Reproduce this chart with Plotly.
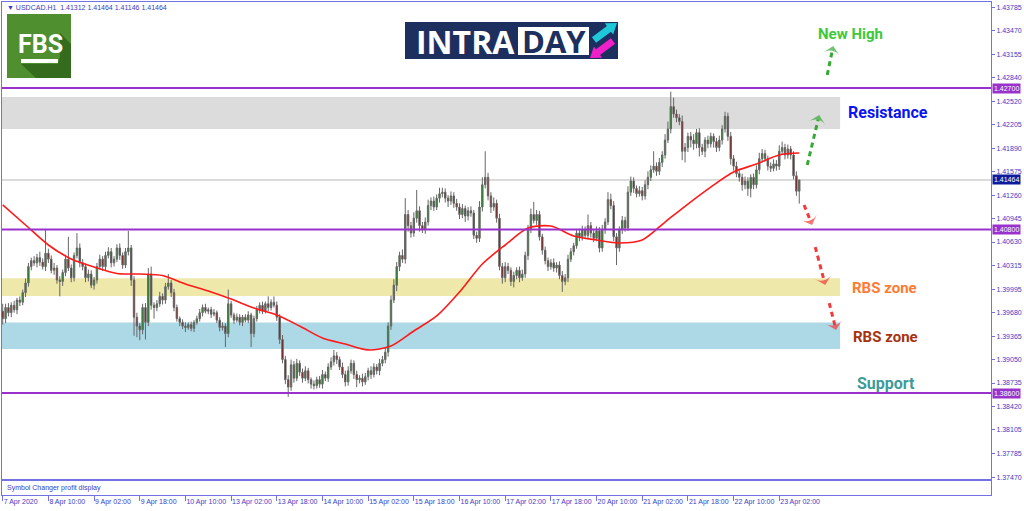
import plotly.graph_objects as go

# ---------------- data ----------------
time_labels = ["7 Apr 2020", "8 Apr 10:00", "9 Apr 02:00", "9 Apr 18:00", "10 Apr 10:00",
               "13 Apr 02:00", "13 Apr 18:00", "14 Apr 10:00", "15 Apr 02:00", "15 Apr 18:00",
               "16 Apr 10:00", "17 Apr 02:00", "17 Apr 18:00", "20 Apr 10:00", "21 Apr 02:00",
               "21 Apr 18:00", "22 Apr 10:00", "23 Apr 02:00"]
label_bars = [0, 16, 32, 48, 64, 80, 96, 112, 128, 144, 160, 176, 192, 208, 224, 240, 256, 272]

price_ticks = [1.43785, 1.43470, 1.43155, 1.42840, 1.42520, 1.42205, 1.41890, 1.41575,
               1.41260, 1.40945, 1.40630, 1.40315, 1.39995, 1.39680, 1.39365, 1.39050,
               1.38735, 1.38420, 1.38105, 1.37785, 1.37470]

first_open = 1.3970
close = [
    1.3960, 1.3975, 1.3968, 1.3978, 1.3972, 1.3985, 1.3982, 1.3995, 1.4008, 1.4030,
    1.4038, 1.4035, 1.4042, 1.4036, 1.4030, 1.4048, 1.4040, 1.4025, 1.4028, 1.4012,
    1.4010, 1.4022, 1.4040, 1.4028, 1.4015, 1.4045, 1.4055, 1.4035, 1.4030, 1.4015,
    1.4020, 1.4005, 1.4012, 1.4030, 1.4040, 1.4030, 1.4045, 1.4050, 1.4035, 1.4040,
    1.4055, 1.4045, 1.4032, 1.4050, 1.4055, 1.4012, 1.3962, 1.3950, 1.3945, 1.3975,
    1.3955, 1.4020, 1.3978, 1.3975, 1.3980, 1.3990, 1.3985, 1.4003, 1.4008, 1.3995,
    1.3975, 1.3960, 1.3955, 1.3950, 1.3948, 1.3952, 1.3947, 1.3955, 1.3960, 1.3968,
    1.3975, 1.3970, 1.3972, 1.3966, 1.3968, 1.3958, 1.3948, 1.3950, 1.3940, 1.3980,
    1.3965, 1.3958, 1.3962, 1.3955, 1.3962, 1.3958, 1.3965, 1.3940, 1.3960, 1.3972,
    1.3978, 1.3970, 1.3980, 1.3975, 1.3982, 1.3978, 1.3962, 1.3932, 1.3905, 1.3878,
    1.3868, 1.3898, 1.3880, 1.3900, 1.3888, 1.3880, 1.3890, 1.3878, 1.3872, 1.3870,
    1.3878, 1.3872, 1.3885, 1.3880, 1.3895, 1.3902, 1.3910, 1.3905, 1.3895, 1.3885,
    1.3875, 1.3890, 1.3900, 1.3885, 1.3878, 1.3880, 1.3875, 1.3882, 1.3890, 1.3885,
    1.3895, 1.3890, 1.3900, 1.3905, 1.3915, 1.3950, 1.3985, 1.4005, 1.4030, 1.4045,
    1.4040, 1.4100, 1.4085, 1.4075, 1.4095, 1.4105, 1.4085, 1.4080, 1.4090, 1.4112,
    1.4118, 1.4110, 1.4122, 1.4128, 1.4130, 1.4122, 1.4118, 1.4125, 1.4115, 1.4110,
    1.4100, 1.4108, 1.4098, 1.4105, 1.4102, 1.4072, 1.4068, 1.4110, 1.4140, 1.4150,
    1.4125, 1.4110, 1.4115, 1.4095, 1.4030, 1.4015, 1.4030, 1.4025, 1.4010, 1.4018,
    1.4025, 1.4015, 1.4020, 1.4045, 1.4080, 1.4100, 1.4092, 1.4100, 1.4070, 1.4052,
    1.4038, 1.4030, 1.4035, 1.4028, 1.4032, 1.4018, 1.4010, 1.4015, 1.4040, 1.4050,
    1.4058, 1.4075, 1.4070, 1.4080, 1.4072, 1.4085, 1.4075, 1.4068, 1.4078, 1.4055,
    1.4080, 1.4090, 1.4120, 1.4112, 1.4070, 1.4055, 1.4080, 1.4092, 1.4082, 1.4130,
    1.4145, 1.4135, 1.4128, 1.4132, 1.4125, 1.4140, 1.4150, 1.4160, 1.4165, 1.4158,
    1.4170, 1.4180, 1.4200, 1.4215, 1.4245, 1.4235, 1.4230, 1.4225, 1.4185, 1.4190,
    1.4205, 1.4200, 1.4195, 1.4210, 1.4190, 1.4185, 1.4200, 1.4195, 1.4205, 1.4198,
    1.4190, 1.4200, 1.4215, 1.4232, 1.4205, 1.4175, 1.4165, 1.4155, 1.4150, 1.4140,
    1.4145, 1.4135, 1.4150, 1.4140, 1.4160, 1.4175, 1.4182, 1.4175, 1.4165, 1.4162,
    1.4168, 1.4165, 1.4185, 1.4190, 1.4180, 1.4188, 1.4180, 1.4152, 1.41312, 1.41464,
]
# wick lengths, in pips (0.0001)
upper_wick = [
    10, 5, 6, 4, 6, 3, 5, 4, 6, 5,
    4, 6, 5, 8, 5, 32, 6, 5, 7, 4,
    5, 4, 6, 30, 5, 4, 20, 6, 5, 4,
    6, 5, 4, 5, 6, 4, 5, 6, 5, 4,
    5, 6, 4, 5, 23, 4, 5, 6, 4, 5,
    6, 8, 10, 4, 5, 6, 4, 5, 12, 4,
    5, 4, 3, 4, 5, 3, 4, 3, 4, 5,
    4, 5, 3, 4, 5, 3, 4, 5, 4, 19,
    4, 3, 5, 4, 3, 4, 5, 3, 4, 5,
    4, 5, 3, 10, 4, 8, 5, 4, 6, 5,
    6, 7, 5, 6, 4, 5, 6, 4, 3, 5,
    4, 5, 6, 4, 5, 6, 8, 5, 4, 6,
    5, 6, 5, 4, 5, 4, 6, 5, 4, 6,
    5, 4, 6, 5, 6, 5, 6, 8, 6, 5,
    8, 22, 6, 5, 8, 28, 6, 5, 6, 8,
    5, 6, 5, 8, 6, 5, 4, 6, 5, 6,
    5, 6, 4, 5, 6, 4, 5, 8, 10, 35,
    6, 5, 8, 5, 6, 5, 6, 5, 4, 5,
    4, 5, 6, 5, 6, 8, 17, 6, 5, 4,
    5, 4, 5, 6, 4, 5, 6, 5, 6, 5,
    4, 5, 6, 5, 4, 15, 5, 4, 6, 5,
    6, 5, 10, 8, 6, 5, 4, 6, 5, 8,
    6, 5, 4, 6, 5, 6, 8, 6, 20, 5,
    6, 5, 8, 10, 20, 12, 6, 5, 8, 6,
    5, 6, 8, 5, 6, 5, 4, 6, 5, 4,
    5, 6, 5, 6, 5, 6, 5, 6, 4, 5,
    6, 5, 4, 5, 6, 8, 6, 5, 4, 5,
    6, 5, 8, 8, 5, 6, 4, 5, 6, 0,
]
lower_wick = [
    8, 6, 5, 6, 4, 6, 5, 4, 6, 5,
    5, 4, 6, 5, 4, 6, 5, 4, 6, 5,
    20, 6, 5, 4, 6, 5, 4, 6, 5, 6,
    5, 4, 6, 5, 4, 6, 5, 4, 6, 5,
    4, 6, 5, 4, 5, 8, 25, 15, 14, 6,
    23, 5, 6, 15, 5, 4, 6, 5, 4, 6,
    5, 4, 5, 4, 6, 3, 4, 5, 3, 4,
    5, 3, 4, 5, 3, 4, 5, 4, 18, 5,
    4, 5, 3, 4, 5, 3, 4, 18, 5, 4,
    5, 4, 3, 5, 4, 3, 5, 6, 5, 6,
    13, 5, 6, 4, 5, 6, 4, 5, 6, 5,
    4, 5, 6, 4, 5, 4, 5, 6, 4, 5,
    6, 5, 4, 6, 10, 5, 6, 4, 5, 6,
    4, 5, 6, 4, 5, 6, 5, 4, 8, 6,
    5, 6, 8, 6, 5, 6, 8, 5, 6, 5,
    6, 5, 4, 6, 5, 6, 8, 5, 6, 5,
    6, 5, 8, 6, 5, 5, 6, 5, 6, 5,
    6, 8, 5, 6, 5, 8, 6, 5, 6, 8,
    5, 6, 4, 5, 6, 5, 4, 6, 5, 6,
    5, 6, 4, 5, 6, 5, 14, 5, 6, 4,
    5, 4, 6, 5, 4, 5, 6, 5, 4, 6,
    5, 6, 4, 5, 6, 23, 5, 6, 5, 4,
    5, 6, 5, 4, 6, 5, 6, 5, 4, 6,
    5, 6, 5, 4, 6, 5, 6, 5, 12, 15,
    6, 10, 8, 6, 12, 5, 8, 6, 5, 8,
    6, 5, 6, 5, 6, 8, 6, 5, 6, 8,
    6, 10, 12, 6, 5, 6, 5, 4, 6, 5,
    4, 6, 5, 4, 6, 5, 6, 5, 6, 16.6,
]

ma_bars = [0, 8, 16, 24, 32, 40, 48, 56, 64, 72, 80, 88, 96, 104, 112, 120, 128, 136,
           144, 152, 160, 168, 176, 184, 192, 200, 208, 216, 224, 232, 240, 248, 256, 264, 272, 279]
ma_values = [1.41128, 1.40859, 1.40590, 1.40402, 1.40294, 1.40207, 1.40200, 1.40180, 1.40066,
             1.39972, 1.39864, 1.39743, 1.39649, 1.39501, 1.39340, 1.39259, 1.39180, 1.39232,
             1.39434, 1.39636, 1.39958, 1.40335, 1.40590, 1.40818, 1.40845, 1.40711, 1.40657,
             1.40617, 1.40657, 1.40899, 1.41141, 1.41369, 1.41571, 1.41679, 1.41800, 1.41826]

level_lines = [1.42700, 1.40800, 1.38600]
bid_price = 1.41464
zones = [  # (low, high, colour)
    (1.42149, 1.42580, "#dcdcdc"),
    (1.39905, 1.40143, "#eee8aa"),
    (1.39192, 1.39550, "#add8e6"),
]
zone_end_bar = 293.3

# dashed projection arrows: (bar0, price0, bar1, price1, colour)
arrows = [
    (281.8, 1.41665, 286.0, 1.42337, "#35a835"),
    (288.8, 1.42875, 290.9, 1.43265, "#35a835"),
    (280.7, 1.41128, 283.5, 1.40859, "#f23a3a"),
    (284.6, 1.40563, 288.1, 1.40052, "#f23a3a"),
    (289.5, 1.39810, 291.9, 1.39447, "#f23a3a"),
]
labels = [  # (text, bar, price, colour, size)
    ("New High", 296.8, 1.43426, "#3cc83c", 15),
    ("Resistance", 310.1, 1.42377, "#0a14f0", 16),
    ("RBS zone", 308.7, 1.40012, "#ff7a33", 15),
    ("RBS zone", 309.1, 1.39353, "#a8320f", 15),
    ("Support", 309.4, 1.38735, "#3f9a9a", 16),
]

# ---------------- derived OHLC ----------------
n = len(close)
opens = [first_open] + close[:-1]
highs = [max(o, c) + u * 1e-4 for o, c, u in zip(opens, close, upper_wick)]
lows = [min(o, c) - d * 1e-4 for o, c, d in zip(opens, close, lower_wick)]
bars = list(range(n))

# ---------------- geometry ----------------
W, H = 1024, 511
ML, MR, MT, MB = 2, 33, 2, 16
PW, PH = W - ML - MR, H - MT - MB
xr = [-0.25, -0.25 + PW / 2.855]
yr = [1.37445, 1.43856]
main_dom = [(495 - 479) / PH, 1]
sub_dom = [0, (495 - 481) / PH]

FRAME = "#7272e4"
TXT = "#3b3bc8"
FONT = "Liberation Sans, Arial, sans-serif"


def px(x):
    return (x - ML) / PW


def py(y):
    return (H - MB - y) / PH


def path(pts):
    return "M " + " L ".join(f"{px(a):.5f},{py(b):.5f}" for a, b in pts) + " Z"


fig = go.Figure()

fig.add_trace(go.Candlestick(
    x=bars, open=opens, high=highs, low=lows, close=close,
    increasing=dict(line=dict(color="#666666", width=1), fillcolor="#149614"),
    decreasing=dict(line=dict(color="#666666", width=1), fillcolor="#8b0000"),
    whiskerwidth=0, showlegend=False, hoverinfo="skip"))

fig.add_trace(go.Scatter(x=ma_bars, y=ma_values, mode="lines",
                         line=dict(color="#ff1a1a", width=1.6, shape="spline", smoothing=0.8),
                         showlegend=False, hoverinfo="skip"))

for b0, p0, b1, p1, col in arrows:
    fig.add_trace(go.Scatter(
        x=[b0, b1], y=[p0, p1], mode="lines+markers",
        line=dict(color=col, width=3, dash="5px,4px"),
        marker=dict(symbol="arrow-wide", size=[0, 12], color=col, angleref="previous",
                    line=dict(width=0)),
        showlegend=False, hoverinfo="skip"))

fig.add_trace(go.Scatter(x=[0], y=[0.5], mode="markers", marker=dict(opacity=0),
                         xaxis="x2", yaxis="y2", showlegend=False, hoverinfo="skip"))

shapes = []
for lo, hi, col in zones:
    shapes.append(dict(type="rect", xref="x", yref="y", x0=xr[0] - 1, x1=zone_end_bar,
                       y0=lo, y1=hi, fillcolor=col, line=dict(width=0), layer="below"))
shapes.append(dict(type="line", xref="paper", yref="y", x0=0, x1=1, y0=bid_price, y1=bid_price,
                   line=dict(color="#b8b8b8", width=1), layer="below"))
for lv in level_lines:
    shapes.append(dict(type="line", xref="paper", yref="y", x0=0, x1=1, y0=lv, y1=lv,
                       line=dict(color="#9932cc", width=2)))

# FBS logo
shapes.append(dict(type="rect", xref="paper", yref="paper", x0=px(7), x1=px(71), y0=py(78), y1=py(14),
                   fillcolor="#4f8f30", line=dict(width=0)))
shapes.append(dict(type="path", xref="paper", yref="paper",
                   path=path([(60, 33), (71, 44), (71, 78), (36, 78), (21, 64), (58, 64), (60, 56)]),
                   fillcolor="#356b1c", line=dict(width=0)))
shapes.append(dict(type="rect", xref="paper", yref="paper", x0=px(21), x1=px(58), y0=py(63), y1=py(59),
                   fillcolor="white", line=dict(width=0)))
# INTRADAY logo
shapes.append(dict(type="rect", xref="paper", yref="paper", x0=px(405), x1=px(618), y0=py(59), y1=py(22),
                   fillcolor="#1c2f5e", line=dict(width=0)))
shapes.append(dict(type="rect", xref="paper", yref="paper", x0=px(518), x1=px(589), y0=py(55), y1=py(27),
                   fillcolor="white", line=dict(width=0)))
shapes.append(dict(type="path", xref="paper", yref="paper",
                   path=path([(596.1, 42.8), (611.0, 31.8), (613.1, 34.6), (617, 23), (604.8, 23.3),
                              (606.9, 26.1), (591.9, 37.2)]),
                   fillcolor="#1ec8d8", line=dict(width=0)))
shapes.append(dict(type="path", xref="paper", yref="paper",
                   path=path([(615.1, 43.8), (600.1, 54.9), (602.2, 57.7), (590, 58), (593.9, 46.4),
                              (596.0, 49.3), (610.9, 38.2)]),
                   fillcolor="#f020c8", line=dict(width=0)))

ann = []
for txt, b, p, col, sz in labels:
    ann.append(dict(x=b, y=p, xref="x", yref="y", text=f"<b>{txt}</b>", showarrow=False,
                    xanchor="center", yanchor="middle",
                    font=dict(family="Roboto, sans-serif", size=sz, color=col)))
for lv in level_lines:
    ann.append(dict(x=1, y=lv, xref="paper", yref="y", xanchor="left", yanchor="middle", xshift=1,
                    text=f"{lv:.5f}", showarrow=False, bgcolor="#9932cc", borderpad=1,
                    font=dict(family=FONT, size=7, color="white")))
ann.append(dict(x=1, y=bid_price, xref="paper", yref="y", xanchor="left", yanchor="middle", xshift=1,
                text=f"{bid_price:.5f}", showarrow=False, bgcolor="#0c1c9c", borderpad=1,
                font=dict(family=FONT, size=7, color="white")))
ann.append(dict(x=px(5), y=py(7), xref="paper", yref="paper", xanchor="left", yanchor="middle",
                text="▼ USDCAD.H1  1.41312 1.41464 1.41146 1.41464", showarrow=False,
                font=dict(family=FONT, size=7, color=TXT)))
ann.append(dict(x=px(5), y=py(488), xref="paper", yref="paper", xanchor="left", yanchor="middle",
                text="Symbol Changer profit display", showarrow=False,
                font=dict(family=FONT, size=7, color=TXT)))
ann.append(dict(x=px(40), y=py(45), xref="paper", yref="paper", xanchor="center", yanchor="middle",
                text="<b>FBS</b>", showarrow=False,
                font=dict(family="Roboto, sans-serif", size=25, color="white")))
ann.append(dict(x=px(465), y=py(41), xref="paper", yref="paper", xanchor="center", yanchor="middle",
                text="<b>INTRA</b>", showarrow=False,
                font=dict(family="Open Sans, sans-serif", size=32, color="white")))
ann.append(dict(x=px(553.5), y=py(41), xref="paper", yref="paper", xanchor="center", yanchor="middle",
                text="<b>DAY</b>", showarrow=False,
                font=dict(family="Open Sans, sans-serif", size=31, color="#1c2f5e")))

axis_common = dict(showgrid=False, zeroline=False, showline=True, mirror=True,
                   linecolor=FRAME, linewidth=1, fixedrange=True)

fig.update_layout(
    width=W, height=H, margin=dict(l=ML, r=MR, t=MT, b=MB, autoexpand=False),
    paper_bgcolor="white", plot_bgcolor="white", showlegend=False,
    xaxis=dict(domain=[0, 1], range=xr, anchor="y", showticklabels=False, ticks="",
               rangeslider=dict(visible=False), **axis_common),
    yaxis=dict(domain=main_dom, range=yr, side="right", anchor="x",
               tickvals=price_ticks, ticktext=[f"{v:.5f}" for v in price_ticks],
               ticks="outside", ticklen=3, tickcolor=FRAME,
               tickfont=dict(family=FONT, size=7, color=TXT), **axis_common),
    xaxis2=dict(domain=[0, 1], range=xr, anchor="y2", tickvals=label_bars, ticktext=time_labels,
                ticks="outside", ticklen=5, tickcolor=FRAME, ticklabelposition="outside right",
                tickangle=0, tickfont=dict(family=FONT, size=7, color=TXT), **axis_common),
    yaxis2=dict(domain=sub_dom, range=[0, 1], anchor="x2", showticklabels=False, ticks="",
                **axis_common),
    shapes=shapes, annotations=ann,
)

fig.write_html("out.html", config={"displayModeBar": False},
               post_script="document.body.style.margin='0';document.body.style.overflow='hidden';")
